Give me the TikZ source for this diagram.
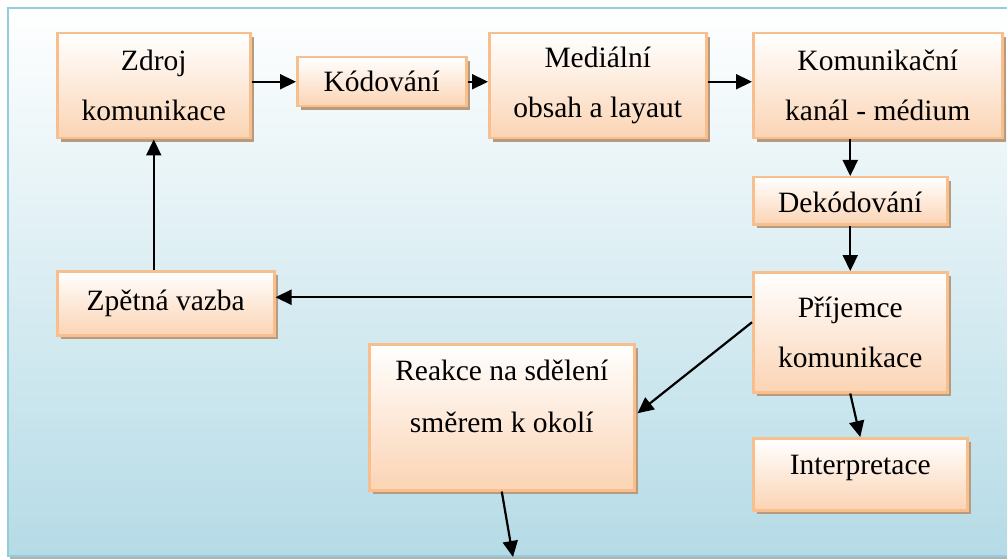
\documentclass[tikz,border=0pt]{standalone}
\usepackage{fontspec}
\setmainfont{Liberation Serif}
\usetikzlibrary{arrows.meta,shadows,calc}
\definecolor{peach}{HTML}{FBD4B4}
\definecolor{peachline}{HTML}{F8BF8E}
\definecolor{shadowc}{HTML}{B89A7E}
\definecolor{bgbottom}{HTML}{B5DBE6}
\definecolor{bgline}{HTML}{92CDDC}
\tikzset{
  box/.style={rectangle, anchor=north west, draw=peachline, line width=2.5pt,
    top color=white, bottom color=peach, align=center, inner sep=0pt,
    font=\fontsize{29.5}{50}\selectfont,
    drop shadow={shadow xshift=4pt, shadow yshift=-4pt, fill=shadowc, opacity=1}},
  txt/.style={align=center, inner sep=0pt, font=\fontsize{29.5}{52}\selectfont},
  arr/.style={line width=2.2pt, -{Triangle[length=16pt,width=15pt]}}
}
\begin{document}
\begin{tikzpicture}[x=1pt,y=-1pt]
\useasboundingbox (0,0) rectangle (1007,559);
% background
\fill[gray!60] (10,556) rectangle (1010,559);
\draw[bgline, line width=2pt, top color=white, bottom color=bgbottom] (8,8) rectangle (1012,556);
% boxes
\node[box, minimum width=193, minimum height=105] (zdroj) at (56,32) {Zdroj\\komunikace};
\node[box, minimum width=169, minimum height=49] (kod) at (296,56) {Kódování};
\node[box, minimum width=217, minimum height=105] (med) at (488,32) {Mediální\\obsah a layaut};
\node[box, minimum width=249, minimum height=105] (kan) at (752,32) {Komunikační\\kanál - médium};
\node[box, minimum width=194, minimum height=47, text height=24pt, text depth=0pt] (dek) at (752,176) {Dekódování};
\node[box, minimum width=194, minimum height=120] (pri) at (752,271) {Příjemce\\komunikace};
\node[box, minimum width=217, minimum height=64] (zpet) at (56,270) {Zpětná vazba};
\node[box, minimum width=265, minimum height=146] (reak) at (368,343) {};
\node[txt, anchor=north] (reaktxt) at ([yshift=-17pt]reak.north) {Reakce na sdělení\\směrem k okolí};
\node[box, minimum width=214, minimum height=72, text height=20pt, text depth=20pt] (interp) at (752,437) {Interpretace};
\coordinate (okoli) at (513,557);
% connectors
\draw[arr] (zdroj.east |- kod.west) -- (kod.west);
\draw[arr] (kod.east) -- (kod.east -| med.west);
\draw[arr] (med.east |- kod.east) -- (kan.west |- kod.east);
\draw[arr] (dek.north |- kan.south) -- (dek.north);
\draw[arr] (dek.south) -- (pri.north);
\coordinate (fb) at ([yshift=35pt]pri.west);
\draw[arr] (fb) -- (fb -| zpet.east);
\draw[arr] (zdroj.south |- zpet.north) -- (zdroj.south);
\draw[arr] ([yshift=10pt]pri.west) -- ([yshift=4pt, xshift=2pt]reak.east);
\draw[arr] (pri.south) -- (interp.north);
\draw[arr] (reak.south) -- (okoli);
\end{tikzpicture}
\end{document}
